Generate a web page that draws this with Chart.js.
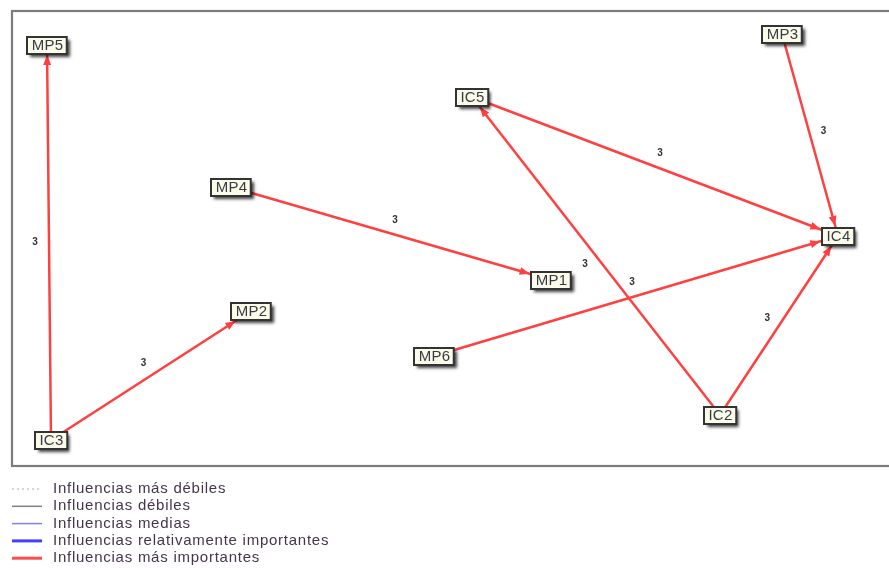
<!DOCTYPE html>
<html>
<head>
<meta charset="utf-8">
<script src="https://cdn.jsdelivr.net/npm/chart.js@4.4.1/dist/chart.umd.min.js"></script>
<style>
  html, body { margin: 0; padding: 0; background: #fff; }
  canvas { display: block; }
</style>
</head>
<body>
<canvas id="influence_graph" width="889" height="568"></canvas>
<script>
// Nodes (position in the plane)
const nodeNames = ['MP5', 'MP3', 'IC5', 'MP4', 'IC4', 'MP1', 'MP2', 'MP6', 'IC2', 'IC3'];
const nodeX     = [35, 770, 460, 219, 826, 539, 239, 422, 708, 39];
const nodeY     = [34, 23, 86, 176, 225, 269, 300, 345, 404, 429];

// Edges (influences)
const edgeFrom   = ['IC3', 'IC3', 'MP4', 'IC5', 'MP3', 'MP6', 'IC2', 'IC2'];
const edgeTo     = ['MP5', 'MP2', 'MP1', 'IC4', 'IC4', 'IC4', 'IC5', 'IC4'];
const edgeValues = [3, 3, 3, 3, 3, 3, 3, 3];

// Legend
const legendLabels = [
    'Influencias más débiles',
    'Influencias débiles',
    'Influencias medias',
    'Influencias relativamente importantes',
    'Influencias más importantes'
];
const legendColors = ['#c8c8c8', '#808080', '#8080ff', '#4040ff', '#ff4d4d'];
const legendWidths = [1.5, 1.5, 1.5, 3, 3];
const legendDash   = [[2, 3], [], [], [], []];

const edgeColor = 'rgb(255, 64, 64)';

const nodeIndex = ( name ) => nodeNames.indexOf( name );

const edgeDatasets = edgeFrom.map( ( from, i ) => {
    const a = nodeIndex( from ), b = nodeIndex( edgeTo[i] );
    return {
        label: from + ' - ' + edgeTo[i],
        data: [ { x: nodeX[a], y: nodeY[a] }, { x: nodeX[b], y: nodeY[b] } ],
        showLine: true,
        borderColor: edgeColor,
        borderWidth: 2.5,
        pointRadius: 0
    };
});

const nodeDataset = {
    label: 'nodes',
    data: nodeNames.map( ( n, i ) => ( { x: nodeX[i], y: nodeY[i] } ) ),
    pointRadius: 0,
    showLine: false
};

const NODE_FONT = '15px Arial, "Liberation Sans", sans-serif';
const BOX_H = 17;

function boxWidth( ctx, name )
{
    ctx.save();
    ctx.font = NODE_FONT;
    ctx.letterSpacing = '0.3px';
    const w = ctx.measureText( name ).width + 8;
    ctx.restore();
    return w;
}

const graphPlugin = {
    id: 'graph',
    beforeDraw( chart ) {
        const { ctx, chartArea } = chart;
        ctx.save();
        ctx.strokeStyle = '#7c7c7c';
        ctx.lineWidth = 2.2;
        ctx.strokeRect( chartArea.left, chartArea.top, chartArea.right - chartArea.left + 10, chartArea.bottom - chartArea.top );
        ctx.restore();
    },
    afterDatasetsDraw( chart ) {
        const { ctx } = chart;
        const xs = chart.scales.x, ys = chart.scales.y;
        const px = ( i ) => xs.getPixelForValue( nodeX[i] );
        const py = ( i ) => ys.getPixelForValue( nodeY[i] );

        // arrow heads + values
        edgeFrom.forEach( ( from, i ) => {
            const a = nodeIndex( from ), b = nodeIndex( edgeTo[i] );
            const x0 = px( a ), y0 = py( a ), x1 = px( b ), y1 = py( b );
            const len = Math.hypot( x1 - x0, y1 - y0 );
            const dx = ( x1 - x0 ) / len, dy = ( y1 - y0 ) / len;
            const hw = boxWidth( ctx, edgeTo[i] ) / 2 + 1.5, hh = BOX_H / 2 + 1.5;
            const t = Math.min( dx ? hw / Math.abs( dx ) : 1e9, dy ? hh / Math.abs( dy ) : 1e9 );
            const tx = x1 - dx * t, ty = y1 - dy * t;
            const nx = -dy, ny = dx;
            ctx.save();
            ctx.fillStyle = edgeColor;
            ctx.beginPath();
            ctx.moveTo( tx, ty );
            ctx.lineTo( tx - dx * 10 + nx * 4, ty - dy * 10 + ny * 4 );
            ctx.lineTo( tx - dx * 10 - nx * 4, ty - dy * 10 - ny * 4 );
            ctx.closePath();
            ctx.fill();

            // value label, left of the direction of the edge
            const mx = ( x0 + x1 ) / 2 + dy * 14, my = ( y0 + y1 ) / 2 - dx * 14;
            ctx.fillStyle = '#333';
            ctx.font = 'bold 10px Arial, sans-serif';
            ctx.textAlign = 'center';
            ctx.textBaseline = 'middle';
            ctx.fillText( String( edgeValues[i] ), mx, my );
            ctx.restore();
        });

        // node boxes
        nodeNames.forEach( ( name, i ) => {
            const cx = px( i ), cy = py( i );
            const w = boxWidth( ctx, name );
            const x = Math.round( cx - w / 2 ), y = Math.round( cy - BOX_H / 2 );
            ctx.save();
            ctx.shadowColor = 'rgba(0,0,0,0.75)';
            ctx.shadowBlur = 3;
            ctx.shadowOffsetX = 3;
            ctx.shadowOffsetY = 3;
            ctx.fillStyle = '#fbfbea';
            ctx.fillRect( x, y, w, BOX_H );
            ctx.shadowColor = 'transparent';
            ctx.strokeStyle = '#333333';
            ctx.lineWidth = 2;
            ctx.strokeRect( x, y, w, BOX_H );
            ctx.fillStyle = '#3a3a46';
            ctx.font = NODE_FONT;
            ctx.letterSpacing = '0.3px';
            ctx.textAlign = 'center';
            ctx.textBaseline = 'middle';
            ctx.fillText( name, cx + 0.5, cy + 1 );
            ctx.restore();
        });
    },
    afterDraw( chart ) {
        const { ctx } = chart;
        ctx.save();
        legendLabels.forEach( ( label, i ) => {
            const y = 489 + i * 17.3;
            ctx.strokeStyle = legendColors[i];
            ctx.lineWidth = legendWidths[i];
            ctx.setLineDash( legendDash[i] );
            ctx.beginPath();
            ctx.moveTo( 12, y );
            ctx.lineTo( 42, y );
            ctx.stroke();
            ctx.setLineDash( [] );
            ctx.fillStyle = '#45344c';
            ctx.font = '15px Arial, "Liberation Sans", sans-serif';
            ctx.letterSpacing = '0.75px';
            ctx.textAlign = 'left';
            ctx.textBaseline = 'middle';
            ctx.fillText( label, 53, y );
        });
        ctx.restore();
    }
};

const graphCtx = document.getElementById('influence_graph');

new Chart( graphCtx, {
    type: 'scatter',
    data: { datasets: edgeDatasets.concat( [ nodeDataset ] ) },
    options: {
        responsive: false,
        animation: false,
        layout: { padding: { left: 12, top: 11, right: 0, bottom: 102 } },
        scales: {
            x: { type: 'linear', min: 0, max: 877, display: false },
            y: { type: 'linear', min: 0, max: 455, reverse: true, display: false }
        },
        plugins: {
            legend: { display: false },
            tooltip: { enabled: false }
        }
    },
    plugins: [ graphPlugin ]
});
</script>
</body>
</html>
